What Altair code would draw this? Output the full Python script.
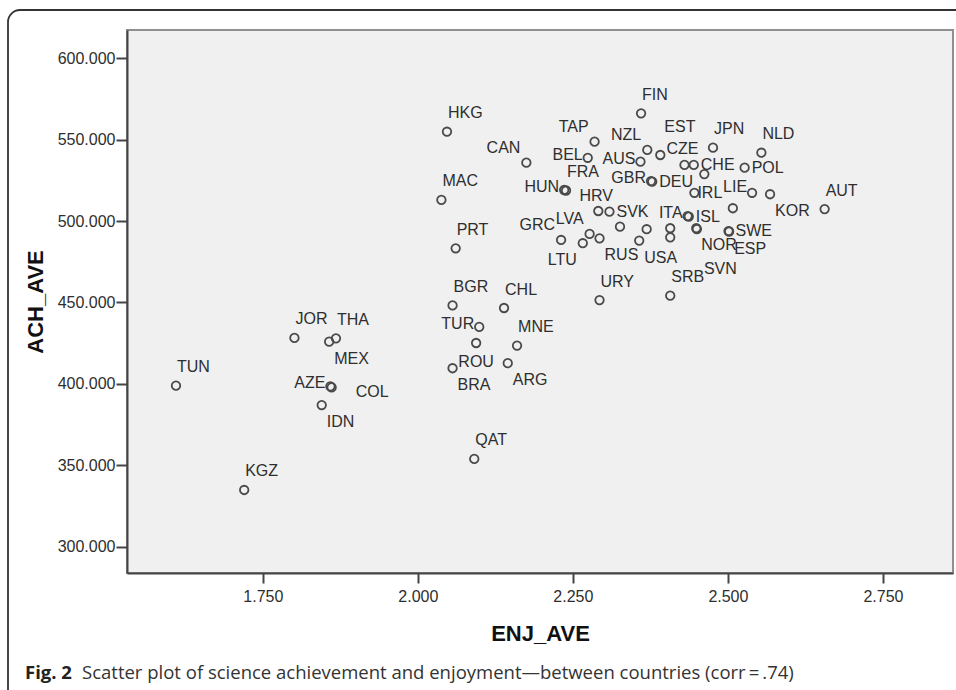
import altair as alt
import pandas as pd

# ---- data ----
countries = [
    "HKG", "MAC", "PRT", "BGR", "CHL", "TUR", "ROU", "BRA", "MNE", "ARG",
    "QAT", "JOR", "THA", "MEX", "AZE", "COL", "IDN", "TUN", "KGZ", "URY",
    "SRB", "FIN", "TAP", "CAN", "BEL", "NZL", "AUS", "EST", "CZE", "CHE",
    "", "POL", "GBR", "DEU", "HUN", "FRA", "IRL", "LIE", "KOR", "",
    "JPN", "NLD", "AUT", "HRV", "SVK", "LVA", "GRC", "LTU", "RUS", "USA",
    "", "", "", "", "ITA", "ISL", "NOR", "SVN", "SWE", "ESP",
]
enj_ave = [
    2.047, 2.038, 2.061, 2.056, 2.139, 2.099, 2.094, 2.056, 2.160, 2.145,
    2.091, 1.801, 1.868, 1.857, 1.859, 1.861, 1.845, 1.610, 1.720, 2.293,
    2.407, 2.360, 2.285, 2.175, 2.274, 2.370, 2.359, 2.391, 2.430, 2.445,
    2.462, 2.527, 2.376, 2.378, 2.236, 2.239, 2.446, 2.539, 2.568, 2.508,
    2.476, 2.554, 2.656, 2.291, 2.309, 2.277, 2.231, 2.266, 2.293, 2.357,
    2.326, 2.369, 2.407, 2.407, 2.435, 2.437, 2.449, 2.450, 2.501, 2.502,
]
ach_ave = [
    554.9, 513.0, 483.3, 448.2, 446.6, 435.0, 425.1, 409.6, 423.5, 412.7,
    353.9, 428.2, 428.0, 425.9, 398.4, 397.8, 387.0, 398.9, 334.8, 451.5,
    454.2, 566.2, 548.8, 535.9, 538.9, 543.7, 536.5, 540.6, 534.5, 534.5,
    528.9, 532.8, 524.6, 524.3, 519.1, 518.8, 517.4, 517.4, 516.5, 507.9,
    545.1, 542.0, 507.4, 506.2, 505.8, 492.1, 488.4, 486.4, 489.4, 488.0,
    496.6, 495.0, 495.6, 490.0, 503.1, 502.8, 495.6, 495.1, 493.9, 493.6,
]
# where each country code is written beside its point
label_side = [
    "t", "t", "t", "t", "t", "l", "bc", "b", "t", "b",
    "t", "t", "t", "b", "l", "rf", "b", "t", "t", "t",
    "t", "t", "tl", "tl", "l", "tl", "l", "t2", "tc", "r",
    "none", "r", "l", "r", "l", "t", "r0", "lu", "b", "none",
    "t", "t", "t", "tc", "r", "tl", "tl", "bl", "b", "b",
    "none", "none", "none", "none", "l", "r", "b", "bb", "r", "b",
]

x_ticks = [1.75, 2.0, 2.25, 2.5, 2.75]
y_ticks = [300, 350, 400, 450, 500, 550, 600]
x_title = "ENJ_AVE"
y_title = "ACH_AVE"
caption_bold = "Fig. 2"
caption_text = "Scatter plot of science achievement and enjoyment\u2014between countries (corr\u2009=\u2009.74)"

df = pd.DataFrame({
    "country": countries,
    "ENJ_AVE": enj_ave,
    "ACH_AVE": ach_ave,
    "side": label_side,
})

PLOT_W, PLOT_H = 826, 543
LABEL_FONT = "Liberation Sans"

x_enc = alt.X(
    "ENJ_AVE:Q",
    scale=alt.Scale(domain=[1.531, 2.863], nice=False, zero=False),
    axis=alt.Axis(
        values=x_ticks, format=".3f", title=x_title, grid=False,
        tickSize=10, labelPadding=5,
        titleX=PLOT_W / 2, titleY=60, titleAlign="center", titleBaseline="middle",
    ),
)
y_enc = alt.Y(
    "ACH_AVE:Q",
    scale=alt.Scale(domain=[283.8, 617.4], nice=False, zero=False),
    axis=alt.Axis(
        values=y_ticks, format=".3f", title=y_title, grid=False,
        tickSize=11, labelPadding=1,
        titleX=-92, titleY=PLOT_H / 2, titleAngle=270,
        titleAlign="center", titleBaseline="middle",
    ),
)

base = alt.Chart(df).encode(x=x_enc, y=y_enc)

points = base.mark_point(
    shape="circle", filled=False, size=72, strokeWidth=1.8,
    color="#4a4a4a", opacity=1,
)

placements = {
    "t": ("left", 1, -18.5),
    "t2": ("left", 4, -28),
    "tl": ("right", -6, -15),
    "tc": ("center", -2, -15.5),
    "l": ("right", -5, -3),
    "lu": ("right", -5, -6),
    "r": ("left", 7, 0),
    "r0": ("left", 3, 0),
    "rf": ("left", 24, 5),
    "b": ("left", 5, 17),
    "bc": ("center", 0, 18.5),
    "bl": ("right", -6, 17),
    "bb": ("left", 7, 40),
}

label_layers = []
for side, (align, dx, dy) in placements.items():
    label_layers.append(
        base.transform_filter(alt.datum.side == side)
        .mark_text(
            align=align, baseline="middle", dx=dx, dy=dy,
            font=LABEL_FONT, fontSize=16, color="#2e2e2e",
        )
        .encode(text="country:N")
    )

one = pd.DataFrame({"k": [0]})

frame = alt.Chart(one).mark_rect(
    fill="#ffffff", fillOpacity=0, stroke="#333333", strokeWidth=1.8,
    cornerRadius=12,
).encode(
    x=alt.value(-119), x2=alt.value(860),
    y=alt.value(-20), y2=alt.value(700),
)

cap1 = alt.Chart(one).mark_text(
    align="left", baseline="middle", font="Open Sans", fontSize=18.5,
    fontWeight="bold", color="#222222",
).encode(x=alt.value(-102), y=alt.value(643), text=alt.value(caption_bold))

cap2 = alt.Chart(one).mark_text(
    align="left", baseline="middle", font="Open Sans", fontSize=18.5,
    color="#333333",
).encode(x=alt.value(-45), y=alt.value(643), text=alt.value(caption_text))

chart = alt.layer(frame, points, *label_layers, cap1, cap2).properties(
    width=PLOT_W, height=PLOT_H,
    autosize=alt.AutoSizeParams(type="none"),
    padding={"left": 127, "top": 30, "right": 3, "bottom": 117},
    background="#ffffff",
).configure_view(
    fill="#f0f0f0", stroke="#8f8f8f", strokeWidth=2,
).configure_axis(
    domainColor="#444444", domainWidth=2,
    tickColor="#444444", tickWidth=2,
    labelFont=LABEL_FONT, labelFontSize=16, labelColor="#2e2e2e",
    titleFont=LABEL_FONT, titleFontSize=22, titleFontWeight="bold",
    titleColor="#111111",
)

chart.save("out.html", embed_options={"renderer": "svg", "actions": False})
